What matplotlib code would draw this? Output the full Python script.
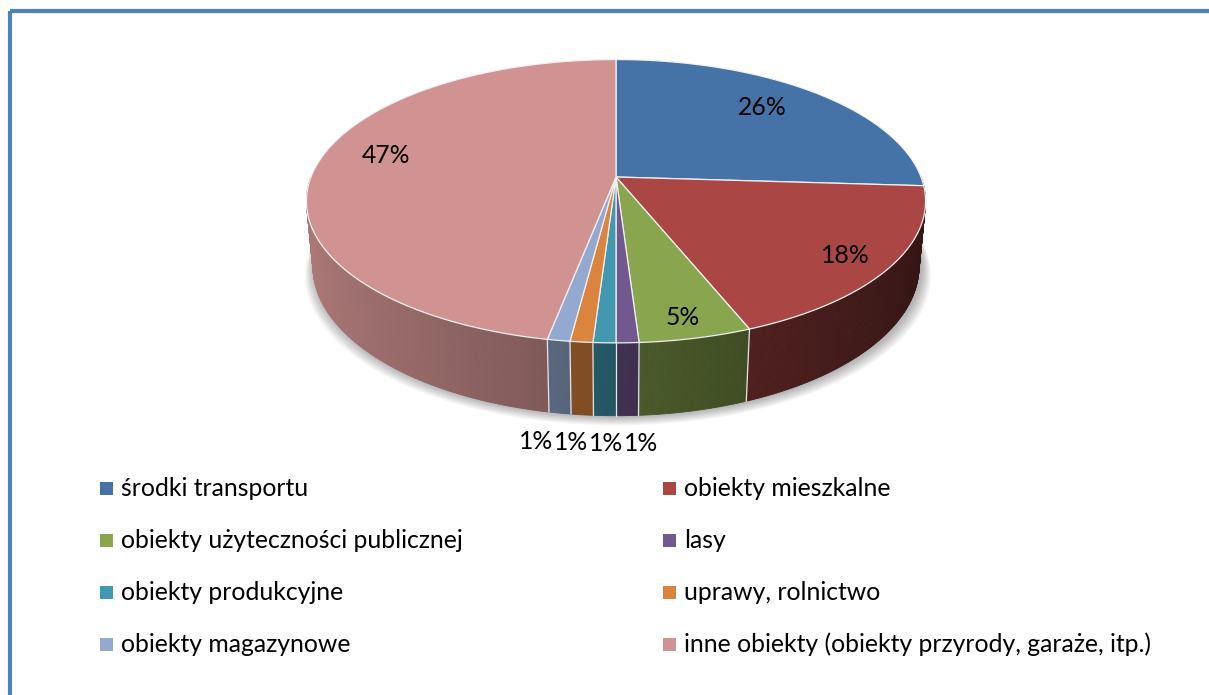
import numpy as np
import matplotlib.pyplot as plt
from matplotlib.patches import Polygon, Rectangle
from matplotlib.colors import to_rgb

plt.rcParams['font.family'] = ['Lato', 'DejaVu Sans']

# data
categories = ['środki transportu', 'obiekty mieszkalne',
              'obiekty użyteczności publicznej', 'lasy',
              'obiekty produkcyjne', 'uprawy, rolnictwo',
              'obiekty magazynowe',
              'inne obiekty (obiekty przyrody, garaże, itp.)']
shares = [26, 18, 5, 1, 1, 1, 1, 47]
colors = ['#4572A7', '#AA4643', '#89A54E', '#71588F',
          '#4198AF', '#DB843D', '#93A9CF', '#D19392']

# label placement inside the slices: radius fraction, angle nudge (deg)
label_r = [0.76, 0.86, 0.89, None, None, None, None, 0.79]
label_nudge = [3.2, -1.1, -0.5, 0, 0, 0, 0, -6.3]

# geometry of the 3d pie, in pixels
W, H = 1209, 695
CX, CY, R = 616, 177, 305
ELEV = np.radians(26.8)
DIST = 5.22
THICK = 0.24
FS = 17.8


def project(theta, z=0.0, r=1.0):
    x = r * np.cos(theta)
    y = r * np.sin(theta)
    depth = DIST + y * np.cos(ELEV) - z * np.sin(ELEV)
    u = x * DIST / depth
    v = (y * np.sin(ELEV) + z * np.cos(ELEV)) * DIST / depth
    return CX + R * u, CY - R * v


def shade(theta):
    return 0.56 - 0.26 * np.cos(theta)


fig = plt.figure(figsize=(W / 100, H / 100), dpi=100)
ax = fig.add_axes([0, 0, 1, 1])
ax.set_xlim(0, W)
ax.set_ylim(H, 0)
ax.axis('off')

cum = np.concatenate([[0], np.cumsum(shares)]) / np.sum(shares)
starts = np.pi / 2 - 2 * np.pi * cum[:-1]
ends = np.pi / 2 - 2 * np.pi * cum[1:]
mids = (starts + ends) / 2

# soft shadow under the pie
full = np.linspace(0, 2 * np.pi, 361)
bx, by = project(full, -THICK)
for k in range(1, 9):
    ax.add_patch(Polygon(np.column_stack([CX + 2 + (bx - CX) * (1 + 0.004 * k), by + 1.2 * k]),
                         closed=True, facecolor='#000000', edgecolor='none',
                         alpha=0.04, zorder=1))

# side walls (front half only)
for a0, a1, col in zip(starts, ends, colors):
    hi, lo = min(a0, 0.0), max(a1, -np.pi)
    if hi <= lo:
        continue
    base = np.array(to_rgb(col))
    t = np.linspace(hi, lo, max(int(np.degrees(hi - lo)) * 2, 2))
    for t1, t2 in zip(t[:-1], t[1:]):
        x1, y1 = project(t1)
        x2, y2 = project(t2)
        x3, y3 = project(t2, -THICK)
        x4, y4 = project(t1, -THICK)
        c = np.clip(base * shade((t1 + t2) / 2), 0, 1)
        ax.add_patch(Polygon([[x1, y1], [x2, y2], [x3, y3], [x4, y4]], closed=True,
                             facecolor=c, edgecolor=c, lw=0.6, zorder=2))

# slice boundaries on the wall (skip the ones hidden at the silhouette)
for a in starts:
    a = (a + np.pi) % (2 * np.pi) - np.pi
    if -np.pi + 0.15 < a < -0.15:
        x1, y1 = project(a)
        x2, y2 = project(a, -THICK)
        ax.plot([x1, x2], [y1, y2], color='#e6e6e6', lw=0.9, zorder=3)

# top faces
for a0, a1, col in zip(starts, ends, colors):
    t = np.linspace(a0, a1, max(int(np.degrees(a0 - a1)) * 2, 3))
    xs, ys = project(t)
    pts = np.column_stack([np.r_[CX, xs], np.r_[CY, ys]])
    ax.add_patch(Polygon(pts, closed=True, facecolor=col, edgecolor='#f0f0f0',
                         lw=0.9, zorder=4))

# percentage labels
pct = [f'{round(s)}%' for s in shares]
small = []
for i, (m, r) in enumerate(zip(mids, label_r)):
    if r is None:
        small.append(i)
        continue
    x, y = project(m + np.radians(label_nudge[i]), 0, r)
    ax.text(x, y, pct[i], ha='center', va='center', fontsize=FS,
            color='black', zorder=6)

bottom = [project(mids[i], -THICK) for i in small]
centre = np.mean([b[0] for b in bottom]) - 5
for k, i in enumerate(small):
    x = centre + (1.5 - k) * 35
    y = bottom[k][1] + 28
    ax.text(x, y, pct[i], ha='center', va='center', fontsize=FS,
            color='black', zorder=6)

# legend, two columns filled row by row
col_x = [100, 663]
row_y = [488, 540, 592, 644]
for i, (name, col) in enumerate(zip(categories, colors)):
    x0 = col_x[i % 2]
    y0 = row_y[i // 2]
    ax.add_patch(Rectangle((x0, y0 - 6.5), 13, 13, facecolor=col,
                           edgecolor='none', zorder=5))
    ax.text(x0 + 21, y0, name, ha='left', va='center', fontsize=FS,
            color='black', zorder=6)

# frame of the chart area (only top and left visible)
ax.add_patch(Rectangle((9.5, 11), 3000, 3000, fill=False, edgecolor='#4F81BD',
                       lw=3.0, zorder=7))

fig.savefig('out.png', dpi=100)
